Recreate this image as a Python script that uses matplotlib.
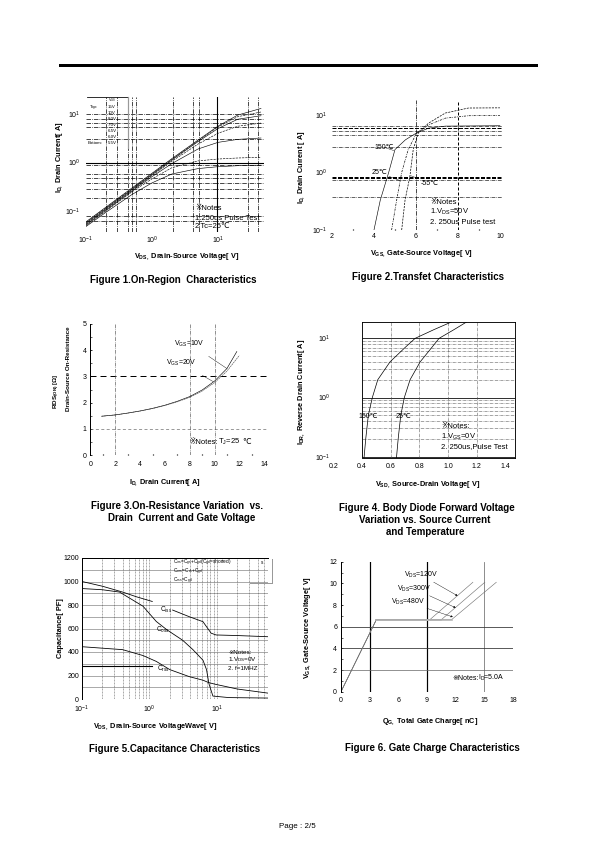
import numpy as np
import matplotlib
matplotlib.use("Agg")
import matplotlib.pyplot as plt
from matplotlib.lines import Line2D

plt.rcParams['font.family'] = ['Liberation Sans', 'DejaVu Sans', 'Noto Sans CJK JP']
plt.rcParams['mathtext.fontset'] = 'custom'
plt.rcParams['mathtext.rm'] = 'Liberation Sans'
plt.rcParams['mathtext.it'] = 'Liberation Sans'
plt.rcParams['mathtext.bf'] = 'Liberation Sans:bold'

# ---------------- data ----------------
# Figure 1 : on-region characteristics (log-log)
f1_vds = [0.1, 0.2, 0.5, 1, 2, 5, 10, 20, 45]
f1_vgs = ['15V', '10V', '8.0V', '7.0V', '6.5V', '6.0V', '5.5V']
f1_id_15v = [0.060, 0.12, 0.30, 0.60, 1.20, 2.9, 5.6, 9.5, 13.0]
f1_id_10v = [0.058, 0.116, 0.29, 0.58, 1.16, 2.8, 5.4, 8.8, 11.0]
f1_id_8v = [0.056, 0.112, 0.28, 0.56, 1.12, 2.7, 5.0, 7.8, 9.2]
f1_id_7v = [0.054, 0.108, 0.27, 0.54, 1.06, 2.4, 4.0, 5.6, 6.5]
f1_id_65v = [0.052, 0.104, 0.26, 0.51, 0.95, 1.9, 2.6, 3.0, 3.2]
f1_id_6v = [0.050, 0.100, 0.25, 0.46, 0.78, 1.08, 1.18, 1.24, 1.28]
f1_id_55v = [0.048, 0.094, 0.22, 0.38, 0.58, 0.75, 0.82, 0.86, 0.88]

# Figure 2 : transfer characteristics
f2_vgs_150 = [4.0, 4.3, 4.7, 5.0, 5.5, 6.0, 6.6, 7.4, 10.0]
f2_id_150 = [0.1, 0.33, 1.0, 2.5, 3.7, 4.8, 5.9, 6.4, 6.5]
f2_vgs_25 = [4.84, 5.08, 5.32, 5.63, 6.03, 6.6, 7.4, 8.5, 10.0]
f2_id_25 = [0.1, 0.33, 1.0, 2.5, 4.85, 6.7, 8.8, 9.7, 9.8]
f2_vgs_m55 = [5.32, 5.48, 5.71, 5.87, 6.11, 6.6, 7.4, 8.5, 10.0]
f2_id_m55 = [0.1, 0.33, 0.85, 2.5, 4.85, 7.2, 10.8, 13.2, 13.3]

# Figure 3 : on-resistance vs drain current
f3_id_10v = [0.9, 2, 3, 4, 5, 6, 7, 8, 9, 10, 11, 11.8]
f3_r_10v = [1.48, 1.53, 1.6, 1.68, 1.78, 1.9, 2.05, 2.23, 2.48, 2.82, 3.3, 3.95]
f3_id_20v = [0.9, 2, 3, 4, 5, 6, 7, 8, 9, 10, 11, 12]
f3_r_20v = [1.48, 1.53, 1.6, 1.68, 1.77, 1.89, 2.03, 2.2, 2.44, 2.76, 3.2, 3.8]

# Figure 4 : body diode forward voltage
f4_idr = [0.095, 0.2, 0.5, 1.0, 2.0, 4.0, 7.0, 10, 14, 19]
f4_vsd_150 = [0.414, 0.426, 0.444, 0.472, 0.51, 0.595, 0.70, 0.77, 0.9, 1.025]
f4_vsd_25 = [0.64, 0.652, 0.67, 0.695, 0.735, 0.805, 0.886, 0.937, 1.04, 1.13]

# Figure 5 : capacitance
f5_vds_a = [0.1, 0.2, 0.4, 0.64, 1.1]
f5_c_a = [1000, 960, 910, 870, 830]
f5_vds_ciss = [2.2, 3.9, 6.2, 7.0, 8.2, 9.7, 20, 57]
f5_ciss = [757, 700, 658, 615, 560, 545, 540, 530]
f5_vds_coss = [0.1, 0.2, 0.36, 0.8, 1.26, 1.8, 3.1, 4.4, 6.2, 7.0, 7.6, 8.7, 15, 57]
f5_coss = [940, 930, 910, 790, 660, 590, 500, 420, 330, 250, 130, 25, 12, 8]
f5_vds_crss = [0.1, 0.4, 0.8, 1.26, 2.0, 3.9, 6.2, 7.5, 9.5, 20, 57]
f5_crss = [445, 420, 370, 320, 250, 190, 160, 140, 125, 85, 50]
f5_vds_bar = [0.1, 1.1]
f5_c_bar = [282, 282]

# Figure 6 : gate charge
f6_qg_120 = [0.0, 3.7, 9.3, 13.8]
f6_qg_300 = [0.0, 3.7, 10.5, 15.05]
f6_qg_480 = [0.0, 3.7, 11.57, 16.25]
f6_vgs = [0.0, 6.65, 6.65, 10.1]

# ---------------- page ----------------
W, H = 595, 842
fig = plt.figure(figsize=(W / 72, H / 72), dpi=72)
renderer = fig.canvas.get_renderer()

TICK = 7.0


def px_axes(x0, y0, x1, y1):
    ax = fig.add_axes([x0 / W, 1 - y1 / H, (x1 - x0) / W, (y1 - y0) / H])
    ax.set_facecolor('none')
    for s in ax.spines.values():
        s.set_visible(False)
    ax.tick_params(which='both', length=0, labelsize=TICK)
    return ax


def ftext(x, y, s, **kw):
    kw.setdefault('ha', 'center')
    kw.setdefault('va', 'center')
    return fig.text(x / W, 1 - y / H, s, **kw)


def chain_text(x, y, parts, **kw):
    # mathtext has no glyph fallback, so the reference mark and degree sign
    # are drawn as plain text pieces next to the math pieces
    cx = x
    for s, gap in parts:
        cx += gap
        t = ftext(cx, y, s, ha='left', **kw)
        cx += t.get_window_extent(renderer=renderer).width


def fline(xs, ys, **kw):
    fig.add_artist(Line2D([x / W for x in xs], [1 - y / H for y in ys],
                          transform=fig.transFigure, **kw))


TITLE = dict(fontsize=9.8, fontweight='bold')
LAB = dict(fontsize=7.4, fontweight='bold')
NOTE = dict(fontsize=7.6, ha='left')
CURV = 7.0

fline([60, 536], [64.5, 64.5], color='k', lw=3)
ftext(297, 827, 'Page : 2/5', fontsize=8)

# ---------------- Figure 1 ----------------
ax1 = px_axes(86, 97, 264, 232)
ax1.set_xscale('log')
ax1.set_yscale('log')
ax1.set_xlim(0.1, 50)
ax1.set_ylim(0.037, 22.4)
for v in [0.2, 0.3, 0.43, 0.5, 0.58, 2.1, 4.2, 5.1, 29, 41]:
    ax1.axvline(v, color='k', lw=0.7, ls='-.')
ax1.axvline(9.6, color='k', lw=1.1)
for h in [10, 7.9, 6.6, 5.35, 3.1, 0.87, 0.58, 0.48, 0.38, 0.29, 0.19, 0.08, 0.062]:
    ax1.axhline(h, color='k', lw=0.7, ls='-.')
ax1.axhline(1.0, color='k', lw=1.1)
f1_curves = [f1_id_15v, f1_id_10v, f1_id_8v, f1_id_7v, f1_id_65v, f1_id_6v, f1_id_55v]
for i, ids in enumerate(f1_curves):
    ax1.plot(f1_vds, ids, color='k', lw=0.6, ls='-' if i % 2 == 0 else '--')
ax1.set_xticks([0.1, 1, 10])
ax1.set_yticks([0.1, 1, 10])
ax1.minorticks_off()
ax1.tick_params(axis='x', pad=3)
ax1.tick_params(axis='y', pad=6)
# legend block
fline([86.7, 127.7], [96.7, 96.7], color='k', lw=0.8)
fline([127.7, 127.7], [96.7, 148], color='0.6', lw=1.2)
ftext(112, 100.3, r'V$_\mathrm{GS}$', fontsize=3.8)
for i, lab in enumerate(f1_vgs):
    ftext(112, 106.8 + i * 6.0, lab, fontsize=4.4)
ftext(90, 106.8, 'Top:', fontsize=4.4, ha='left')
ftext(87.5, 106.8 + 6 * 6.0, 'Bottom:', fontsize=4.4, ha='left')
ftext(195, 209, '※Notes', **NOTE)
ftext(195, 218, '1.250us Pulse Test', **NOTE)
ftext(195, 227, '2.Tc=25℃', **NOTE)
ftext(60, 157, r'I$_\mathbf{D,}$ Drain Current[ A]', rotation=90, **LAB)
ftext(187, 257, r'V$_\mathbf{DS,}$ Drain-Source Voltage[ V]', **LAB)
ftext(173, 280, 'Figure 1.On-Region  Characteristics', **TITLE)

# ---------------- Figure 2 ----------------
ax2 = px_axes(332, 100, 502, 230)
ax2.set_yscale('log')
ax2.set_xlim(2, 10.1)
ax2.set_ylim(0.1, 18.2)
ax2.axvline(6, color='k', lw=0.7, ls='-.')
ax2.axvline(8, color='k', lw=1.0, ls=(0, (3, 2)))
for h in [6.4, 5.3, 4.5, 2.75, 0.74, 0.37]:
    ax2.axhline(h, color='k', lw=0.6, ls='-.')
for h in [5.9, 0.85, 0.8]:
    ax2.axhline(h, color='k', lw=1.0, ls=(0, (4, 1.5)))
ax2.plot(f2_vgs_150, f2_id_150, color='k', lw=0.6)
ax2.plot(f2_vgs_25, f2_id_25, color='k', lw=0.7, ls=(0, (3, 1.5, 1, 1.5)))
ax2.plot(f2_vgs_m55, f2_id_m55, color='k', lw=0.7, ls=(0, (3, 1.5)))
leader = dict(arrowstyle='-', lw=0.4, shrinkA=0, shrinkB=0)
ax2.annotate('150℃', xy=(4.95, 2.4), xytext=(4.5, 2.72), fontsize=CURV, ha='center', va='center',
             arrowprops=leader)
ax2.annotate('25℃', xy=(5.25, 0.72), xytext=(4.24, 1.0), fontsize=CURV, ha='center', va='center',
             arrowprops=leader)
ax2.annotate('-55℃', xy=(5.75, 0.88), xytext=(6.67, 0.654), fontsize=CURV, ha='center', va='center',
             arrowprops=leader)
ax2.set_xticks([2, 4, 6, 8, 10])
ax2.set_yticks([0.1, 1, 10])
ax2.minorticks_off()
ax2.set_xticks([3, 5, 7, 9], minor=True)
ax2.tick_params(axis='x', which='minor', length=1.2, width=1.2, direction='in')
ax2.tick_params(axis='x', pad=3)
ax2.tick_params(axis='y', pad=5)
ftext(430, 202, '※Notes', **NOTE)
ftext(430, 212, r'1.V$_\mathrm{DS}$=50V', **NOTE)
ftext(430, 222, '2. 250us Pulse test', **NOTE)
ftext(302, 167, r'I$_\mathbf{D,}$ Drain Current [ A]', rotation=90, **LAB)
ftext(422, 254, r'V$_\mathbf{GS,}$ Gate-Source Voltage[ V]', **LAB)
ftext(428, 277, 'Figure 2.Transfet Characteristics', **TITLE)

# ---------------- Figure 3 ----------------
ax3 = px_axes(90.5, 324, 266.6, 455)
ax3.spines['left'].set_visible(True)
ax3.spines['left'].set_linewidth(1.0)
ax3.set_xlim(0, 14.2)
ax3.set_ylim(0, 5)
ax3.axhline(3, color='k', lw=1.0, ls=(0, (6, 4)))
ax3.axhline(1, color='0.35', lw=0.6, ls=(0, (5, 4)))
for v in [2, 8, 10]:
    ax3.axvline(v, color='0.3', lw=0.6, ls='-.')
ax3.plot(f3_id_10v, f3_r_10v, color='k', lw=0.6)
ax3.plot(f3_id_20v, f3_r_20v, color='0.3', lw=0.6, ls=(0, (3, 1)))
ax3.annotate(r'V$_\mathrm{GS}$=10V', xy=(11.0, 3.3), xytext=(8.0, 4.25), fontsize=CURV, ha='center',
             va='center', arrowprops=dict(arrowstyle='-', lw=0.4, shrinkA=10, shrinkB=0))
ax3.annotate(r'V$_\mathrm{GS}$=20V', xy=(9.9, 2.8), xytext=(7.3, 3.5), fontsize=CURV, ha='center',
             va='center', arrowprops=dict(arrowstyle='-', lw=0.4, shrinkA=10, shrinkB=0))
ax3.set_xticks(range(0, 15, 2))
ax3.set_yticks(range(0, 6))
ax3.set_yticks(np.arange(0.5, 5, 1.0), minor=True)
ax3.set_xticks(range(1, 14, 2), minor=True)
ax3.tick_params(axis='y', which='both', length=2, direction='in', pad=4)
ax3.tick_params(axis='x', which='minor', length=1.2, width=1.2, direction='in')
ax3.tick_params(axis='x', pad=6)
chain_text(189, 442, [('※Notes:', 0), (r'T$_\mathrm{J}$=25', 0), ('℃', 2.5)], fontsize=7.6)
ftext(57, 391, r'RDS$_\mathbf{(ON)}$ [Ω]', rotation=90, fontsize=6.3, fontweight='bold')
ftext(68, 369, 'Drain-Source On-Resistance', rotation=90, fontsize=6.3, fontweight='bold')
ftext(165, 483, r'I$_\mathbf{D,}$ Drain Current[ A]', **LAB)
ftext(177, 506, 'Figure 3.On-Resistance Variation  vs.', **TITLE)
ftext(182, 518, 'Drain  Current and Gate Voltage', **TITLE)

# ---------------- Figure 4 ----------------
ax4 = px_axes(333.3, 322, 515, 458)
ax4.set_yscale('log')
ax4.set_xlim(0.2, 1.466)
ax4.set_ylim(0.095, 18.9)
for e in (-1, 0, 1):
    for m in range(1, 10):
        h = m * 10.0 ** e
        if h < 18.9:
            if m == 1:
                ax4.hlines(h, 0.4, 1.466, color='k', lw=0.8)
            else:
                ax4.hlines(h, 0.4, 1.466, color='0.3', lw=0.5, ls='-.')
for v in [0.6, 0.8, 1.0, 1.2]:
    ax4.axvline(v, color='0.3', lw=0.5, ls='-.')
ax4.axvline(0.4, color='k', lw=0.9)
for s in ['top', 'bottom', 'right']:
    ax4.spines[s].set_visible(True)
    ax4.spines[s].set_linewidth(0.9)
ax4.spines['top'].set_bounds(0.4, 1.466)
ax4.spines['bottom'].set_bounds(0.4, 1.466)
ax4.plot(f4_vsd_150, f4_idr, color='k', lw=0.7)
ax4.plot(f4_vsd_25, f4_idr, color='k', lw=0.7)
ax4.text(0.44, 0.47, '150℃', fontsize=CURV, ha='center', va='center')
ax4.text(0.69, 0.47, '25℃', fontsize=CURV, ha='center', va='center')
ax4.set_xticks([0.2, 0.4, 0.6, 0.8, 1.0, 1.2, 1.4])
ax4.set_xticklabels(['0.2', '0.4', '0.6', '0.8', '1.0', '1.2', '1.4'])
ax4.set_yticks([0.1, 1, 10])
ax4.minorticks_off()
ax4.tick_params(axis='x', pad=5)
ax4.tick_params(axis='y', pad=3)
ftext(441, 427, '※Notes:', **NOTE)
ftext(441, 437, r'1.V$_\mathrm{GS}$=0V', **NOTE)
ftext(441, 447, '2. 250us,Pulse Test', **NOTE)
ftext(302, 392, r'I$_\mathbf{DR,}$ Reverse Drain Current[ A]', rotation=90, **LAB)
ftext(428, 485, r'V$_\mathbf{SD,}$ Source-Drain Voltage[ V]', **LAB)
ftext(427, 508, 'Figure 4. Body Diode Forward Voltage', **TITLE)
ftext(425, 520, 'Variation vs. Source Current', **TITLE)
ftext(425, 532, 'and Temperature', **TITLE)

# ---------------- Figure 5 ----------------
ax5 = px_axes(82, 558, 268, 699)
ax5.set_xscale('log')
ax5.set_xlim(0.1, 57)
ax5.set_ylim(0, 1200)
for s in ['left', 'top']:
    ax5.spines[s].set_visible(True)
    ax5.spines[s].set_linewidth(1.0)
ax5.set_yticks(range(0, 1201, 200))
ax5.set_yticks(range(100, 1200, 200), minor=True)
ax5.grid(axis='y', which='both', color='0.35', lw=0.5)
ax5.grid(axis='x', which='both', color='0.35', lw=0.5, ls=(0, (4, 2)))
ax5.plot(f5_vds_a, f5_c_a, color='k', lw=0.8)
ax5.plot(f5_vds_ciss, f5_ciss, color='k', lw=0.8)
ax5.plot(f5_vds_coss, f5_coss, color='k', lw=0.8)
ax5.plot(f5_vds_crss, f5_crss, color='k', lw=0.8)
ax5.plot(f5_vds_bar, f5_c_bar, color='k', lw=1.1)
ax5.text(1.75, 760, r'C$_\mathrm{iss}$', fontsize=6.5, ha='center', va='center')
ax5.text(1.55, 585, r'C$_\mathrm{oss}$', fontsize=6.5, ha='center', va='center')
ax5.text(1.6, 255, r'C$_\mathrm{rss}$', fontsize=6.5, ha='center', va='center')
ax5.set_xticks([0.1, 1, 10])
ax5.tick_params(axis='x', which='major', pad=5)
ax5.tick_params(axis='x', which='minor', labelbottom=False)
ax5.tick_params(axis='y', pad=3)
fline([271.5, 271.5], [559, 583], color='0.6', lw=1.0)
fline([250, 271.5], [583, 583], color='0.6', lw=1.0)
LEG5 = 4.7
ftext(173, 562.5, r'C$_\mathrm{iss}$=C$_\mathrm{gs}$+C$_\mathrm{gd}$(C$_\mathrm{gd}$=shorted)', fontsize=LEG5, ha='left')
ftext(262, 562.5, 's', fontsize=LEG5)
ftext(173, 571.5, r'C$_\mathrm{oss}$=C$_\mathrm{ds}$+C$_\mathrm{gd}$', fontsize=LEG5, ha='left')
ftext(173, 580.5, r'C$_\mathrm{rss}$=C$_\mathrm{gd}$', fontsize=LEG5, ha='left')
ftext(228, 652, '※Notes:', fontsize=6.3, ha='left')
ftext(228, 660, r'1.V$_\mathrm{DS}$=0V', fontsize=6.3, ha='left')
ftext(228, 668, '2. f=1MHZ', fontsize=6.3, ha='left')
ftext(60, 628, 'Capacitance[ PF]', rotation=90, **LAB)
ftext(155, 727, r'V$_\mathbf{DS,}$ Drain-Source VoltageWave[ V]', **LAB)
ftext(175, 749, 'Figure 5.Capacitance Characteristics', **TITLE)

# ---------------- Figure 6 ----------------
ax6 = px_axes(341, 561.7, 513, 691.7)
ax6.spines['left'].set_visible(True)
ax6.spines['left'].set_linewidth(1.0)
ax6.set_xlim(0, 18)
ax6.set_ylim(0, 12)
ax6.axvline(3, color='k', lw=1.2)
ax6.axvline(9, color='k', lw=1.2)
ax6.axvline(15, color='0.45', lw=0.8)
ax6.axhline(2, color='0.4', lw=0.7)
ax6.axhline(4, color='0.2', lw=0.8)
ax6.axhline(6, color='0.2', lw=0.8)
for q in [f6_qg_120, f6_qg_300, f6_qg_480]:
    ax6.plot(q, f6_vgs, color='0.45', lw=0.6)
    ax6.plot(q[1:3], f6_vgs[1:3], color='0.7', lw=1.6)
arrow = dict(arrowstyle='-|>', lw=0.4, color='k', mutation_scale=4, shrinkA=0, shrinkB=0)
ax6.annotate(r'V$_\mathrm{DS}$=120V', xy=(12.2, 8.85), xytext=(8.4, 10.77), fontsize=CURV,
             ha='center', va='center', arrowprops=arrow)
ax6.annotate(r'V$_\mathrm{DS}$=300V', xy=(12.0, 7.75), xytext=(7.65, 9.51), fontsize=CURV,
             ha='center', va='center', arrowprops=arrow)
ax6.annotate(r'V$_\mathrm{DS}$=480V', xy=(11.7, 6.9), xytext=(7.0, 8.28), fontsize=CURV,
             ha='center', va='center', arrowprops=arrow)
ax6.set_xticks(range(0, 19, 3))
ax6.set_yticks(range(0, 13, 2))
ax6.set_yticks(range(1, 12, 2), minor=True)
ax6.tick_params(axis='y', which='both', length=2, direction='in', pad=4)
ax6.tick_params(axis='x', pad=5)
chain_text(452, 678, [('※Notes:', 0), (r'I$_\mathrm{D}$=5.0A', 0)], fontsize=7)
ftext(308, 627, r'V$_\mathbf{GS,}$ Gate-Source Voltage[ V]', rotation=90, **LAB)
ftext(430, 722, r'Q$_\mathbf{G,}$ Total Gate Charge[ nC]', **LAB)
ftext(432, 748, 'Figure 6. Gate Charge Characteristics', **TITLE)

fig.savefig('out.png', dpi=72)
